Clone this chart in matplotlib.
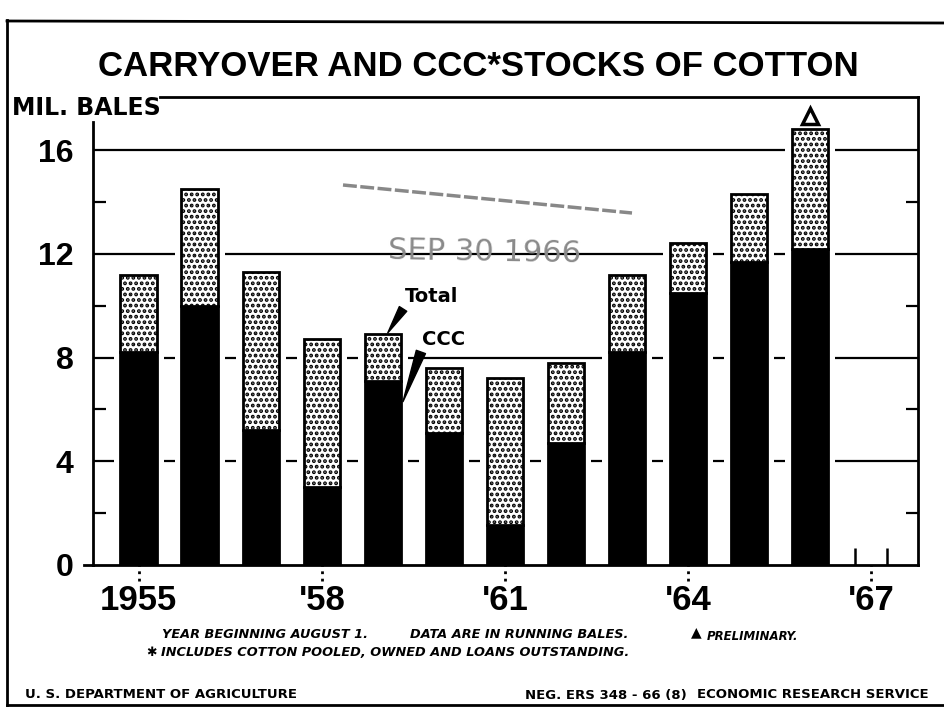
import numpy as np
import matplotlib
matplotlib.use('Agg')
import matplotlib.pyplot as plt
from matplotlib.lines import Line2D

# data (million bales, year beginning Aug 1)
years = [1955, 1956, 1957, 1958, 1959, 1960, 1961, 1962, 1963, 1964, 1965, 1966]
total = [11.2, 14.5, 11.3, 8.7, 8.9, 7.6, 7.2, 7.8, 11.2, 12.4, 14.3, 16.8]
ccc = [8.2, 10.0, 5.2, 3.0, 7.1, 5.1, 1.55, 4.7, 8.2, 10.5, 11.7, 12.2]
tick_years = [1955, 1958, 1961, 1964, 1967]
tick_labels = ['1955', "'58", "'61", "'64", "'67"]
y_major = [0, 4, 8, 12, 16]
y_minor = [2, 6, 10, 14]
preliminary_year = 1966
stub_year = 1967

other = np.array(total) - np.array(ccc)
lib = ['Liberation Sans', 'DejaVu Sans']
plt.rcParams['hatch.linewidth'] = 1.9

W, H = 944, 708
fig = plt.figure(figsize=(W / 100, H / 100), dpi=100)
ax = fig.add_axes([93 / W, 1 - 565 / H, (918 - 93) / W, (565 - 97) / H])
ax.set_xlim(1954.25, 1967.77)
ax.set_ylim(0, 18.05)

# grid lines, broken around the bars by a white backing
for y in y_major[1:]:
    ax.axhline(y, color='black', lw=1.6, zorder=1)
ax.bar(years, total, width=0.82, color='white', lw=0, zorder=1.5)

bw = 0.6
ax.bar(years, ccc, width=bw, color='black', edgecolor='black', lw=2, zorder=2)
ax.bar(years, other, bottom=ccc, width=bw, color='white', edgecolor='black',
       hatch='...', lw=2, zorder=2)

# preliminary marker
ax.plot([preliminary_year], [total[years.index(preliminary_year)] + 0.5], marker='^',
        ms=11, mfc='white', mec='black', mew=2.5, zorder=3, clip_on=False)

# stub for 1967
ax.vlines([stub_year - 0.26, stub_year + 0.26], 0, 0.65, color='black', lw=1.8)

# spines
for s in ax.spines.values():
    s.set_linewidth(2)
ax.spines['left'].set_bounds(0, 17.1)
ax.spines['top'].set_bounds(1955.34, 1967.77)

# ticks
ax.set_yticks(y_major)
ax.set_yticklabels([str(v) for v in y_major], fontsize=23, fontweight='bold', family=lib)
ax.set_yticks(y_minor, minor=True)
ax.tick_params(axis='y', which='major', length=0, pad=14)
ax.tick_params(axis='y', which='minor', direction='in', length=9, width=1.6,
               left=True, right=True)
ax.set_xticks(tick_years)
ax.set_xticklabels(tick_labels, fontsize=25, fontweight='bold', family=lib)
ax.tick_params(axis='x', length=0, pad=14)
ax.vlines(tick_years, -0.6, 0, color='black', linestyles=':', lw=2, clip_on=False)
ax.plot([1954.1, 1954.25], [0, 0], color='black', lw=2, clip_on=False)

# annotations
i59 = years.index(1959)
ax.annotate('Total', xy=(1959.08, total[i59] + 0.05), xytext=(1959.36, 10.35),
            fontsize=14, fontweight='bold', ha='left', va='center',
            arrowprops=dict(arrowstyle='wedge,tail_width=0.45', color='black',
                            shrinkA=0, shrinkB=0, relpos=(0.0, 0.0)))
ax.annotate('CCC', xy=(1959.33, 6.3), xytext=(1959.64, 8.69),
            fontsize=14, fontweight='bold', ha='left', va='center',
            arrowprops=dict(arrowstyle='wedge,tail_width=0.5', color='black',
                            shrinkA=0, shrinkB=0, relpos=(0.0, 0.0)))

# titles and notes
fig.text(478 / W, 1 - 66 / H, 'CARRYOVER AND CCC*STOCKS OF COTTON', ha='center', va='center',
         fontsize=25, fontweight='bold', family=lib)
fig.text(12 / W, 1 - 108 / H, 'MIL. BALES', ha='left', va='center', fontsize=17,
         fontweight='bold')

# received stamp
fig.text(485 / W, 1 - 252 / H, 'SEP 30 1966', ha='center', va='center', fontsize=22,
         color='#8a8a8a', rotation=-1)
fig.add_artist(Line2D([343 / W, 632 / W], [1 - 185 / H, 1 - 213 / H], color='#888888',
                      lw=2.5, ls=(0, (4, 1))))

note = dict(fontsize=9.3, fontweight='bold', style='italic', va='center')
fig.text(162 / W, 1 - 635 / H, 'YEAR BEGINNING AUGUST 1.', **note)
fig.text(410 / W, 1 - 635 / H, 'DATA ARE IN RUNNING BALES.', **note)
fig.text(691 / W, 1 - 632 / H, '\u25b2', fontsize=10, va='center')
fig.text(707 / W, 1 - 636 / H, 'PRELIMINARY.', fontsize=8.5, fontweight='bold',
         style='italic', va='center')
fig.text(146 / W, 1 - 652 / H, '\u2731', fontsize=9, fontweight='bold', va='center')
fig.text(161 / W, 1 - 653 / H, 'INCLUDES COTTON POOLED, OWNED AND LOANS OUTSTANDING.', **note)

foot = dict(fontsize=9.5, fontweight='bold', va='center')
fig.text(25 / W, 1 - 695 / H, 'U. S. DEPARTMENT OF AGRICULTURE', **foot)
fig.text(525 / W, 1 - 695 / H, 'NEG. ERS 348 - 66 (8)', **foot)
fig.text(929 / W, 1 - 695 / H, 'ECONOMIC RESEARCH SERVICE', ha='right',
         fontsize=9.5, fontweight='bold', va='center')

# page border
fig.add_artist(Line2D([7 / W, 7 / W], [1 - 20 / H, 1 - 705 / H], color='black', lw=2))
fig.add_artist(Line2D([7 / W, 1], [1 - 21 / H, 1 - 23 / H], color='black', lw=2))
fig.add_artist(Line2D([7 / W, 1], [1 - 705 / H, 1 - 705 / H], color='black', lw=2))

fig.savefig('out.png', dpi=100)
